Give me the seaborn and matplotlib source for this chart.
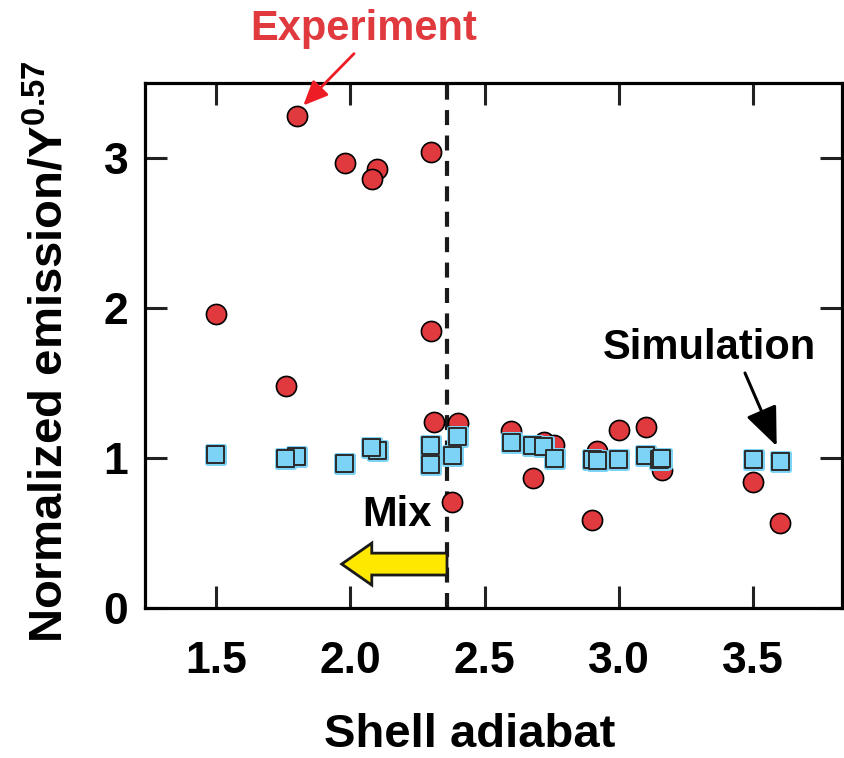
import matplotlib
matplotlib.use("Agg")
import matplotlib.pyplot as plt
import matplotlib.patheffects as pe
from matplotlib.patches import FancyArrow
import seaborn as sns
import pandas as pd

# ---- data ----
exp_x = [1.80, 1.98, 2.10, 2.08, 2.30, 1.50, 2.30, 1.76, 2.31, 2.40, 2.38,
         2.60, 2.72, 2.76, 2.68, 2.92, 3.00, 3.10, 3.16, 2.90, 3.50, 3.60]
exp_y = [3.28, 2.97, 2.93, 2.86, 3.04, 1.96, 1.85, 1.48, 1.24, 1.235, 0.71,
         1.18, 1.11, 1.09, 0.87, 1.05, 1.19, 1.21, 0.92, 0.59, 0.84, 0.57]

sim_x = [1.50, 1.80, 1.76, 1.98, 2.10, 2.08, 2.30, 2.30, 2.40, 2.38, 2.60,
         2.68, 2.72, 2.76, 2.90, 2.92, 3.00, 3.10, 3.15, 3.16, 3.50, 3.60]
sim_y = [1.025, 1.013, 1.00, 0.965, 1.053, 1.071, 1.087, 0.958, 1.142, 1.018,
         1.107, 1.087, 1.076, 1.00, 0.991, 0.987, 0.993, 1.02, 0.991, 0.998,
         0.993, 0.98]

x_ticks = [1.5, 2.0, 2.5, 3.0, 3.5]
x_ticklabels = ["1.5", "2.0", "2.5", "3.0", "3.5"]
y_ticks = [0, 1, 2, 3]
y_ticklabels = ["0", "1", "2", "3"]
mix_boundary = 2.36

exp_df = pd.DataFrame({"adiabat": exp_x, "emission": exp_y})
sim_df = pd.DataFrame({"adiabat": sim_x, "emission": sim_y})

sns.set_style("ticks")
plt.rcParams["font.family"] = ["Liberation Sans", "DejaVu Sans"]
plt.rcParams["mathtext.fontset"] = "custom"
plt.rcParams["mathtext.rm"] = "Liberation Sans:bold"
plt.rcParams["mathtext.bf"] = "Liberation Sans:bold"
plt.rcParams["text.color"] = "black"
plt.rcParams["axes.labelcolor"] = "black"
plt.rcParams["xtick.color"] = "black"
plt.rcParams["ytick.color"] = "black"

RED = "#E03A3E"
BLUE = "#7DD3F5"

fig = plt.figure(figsize=(8.44, 7.58), dpi=100)
ax = fig.add_axes([0.1718, 0.1979, 0.8258, 0.6930])

ax.axvline(mix_boundary, color="#1a1a1a", lw=3.0, ls=(0, (3.6, 2.5)), zorder=1)

sns.scatterplot(data=exp_df, x="adiabat", y="emission", ax=ax, marker="o",
                s=210, color=RED, edgecolor="black", linewidth=1.2, zorder=3,
                legend=False)
sns.scatterplot(data=sim_df, x="adiabat", y="emission", ax=ax, marker="s",
                s=150, color=BLUE, edgecolor="#2a2a2a", linewidth=1.4,
                zorder=4, legend=False)
coll = ax.collections[-1]
coll.set_path_effects([pe.Stroke(linewidth=3.6, foreground=BLUE), pe.Normal()])

ax.set_xlim(1.236, 3.83)
ax.set_ylim(0, 3.505)
ax.set_xticks(x_ticks)
ax.set_xticklabels(x_ticklabels)
ax.set_yticks(y_ticks)
ax.set_yticklabels(y_ticklabels)

for sp in ax.spines.values():
    sp.set_visible(True)
    sp.set_linewidth(2.3)
    sp.set_color("black")

ax.tick_params(direction="in", length=16, width=2.2, top=True, right=True,
               labelsize=32, color="#222222", labelcolor="black")
ax.tick_params(axis="x", pad=24)
ax.tick_params(axis="y", pad=12)
for lab in ax.get_xticklabels() + ax.get_yticklabels():
    lab.set_fontweight("bold")

ax.set_xlabel("Shell adiabat", fontsize=34, fontweight="bold", color="black")
ax.xaxis.set_label_coords(0.466, -0.199)
ax.set_ylabel(r"Normalized emission/Y$^{\mathbf{0.57}}$", fontsize=34,
              fontweight="bold", color="black")
ax.yaxis.set_label_coords(-0.104, 0.487)

# Mix arrow
ax.add_patch(FancyArrow(mix_boundary, 0.293, -(mix_boundary - 1.968), 0,
                        width=0.146, head_width=0.28, head_length=0.112,
                        length_includes_head=True, facecolor="#FFE800",
                        edgecolor="#1a1a1a", linewidth=2.0, zorder=5))
ax.text(2.172, 0.619, "Mix", fontsize=30, fontweight="bold", ha="center",
        va="center", zorder=6, color="black")

# Experiment annotation
ax.annotate("", xy=(1.825, 3.353), xytext=(2.014, 3.699),
            arrowprops=dict(arrowstyle="-|>,head_length=0.75,head_width=0.33",
                            color="#EE1C25", lw=2, mutation_scale=20,
                            shrinkA=0, shrinkB=0),
            annotation_clip=False, zorder=6)
ax.text(2.051, 3.792, "Experiment", fontsize=30, fontweight="bold",
        color=RED, ha="center", va="baseline", clip_on=False)

# Simulation annotation
ax.annotate("", xy=(3.587, 1.08), xytext=(3.469, 1.568),
            arrowprops=dict(arrowstyle="-|>,head_length=1.2,head_width=0.5",
                            color="black", lw=2.2, mutation_scale=20,
                            shrinkA=0, shrinkB=0),
            zorder=6)
ax.text(3.338, 1.663, "Simulation", fontsize=30, fontweight="bold",
        color="black", ha="center", va="baseline")

fig.savefig("out.png", dpi=100)
